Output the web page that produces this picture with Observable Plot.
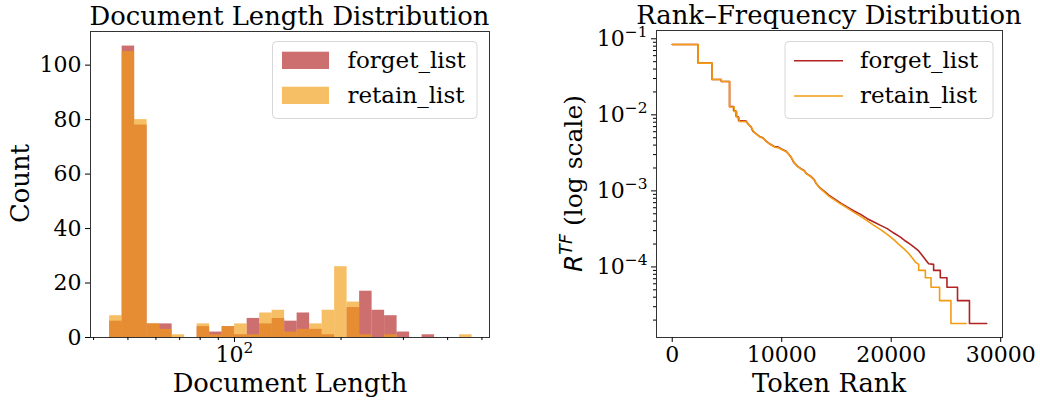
<!DOCTYPE html>
<html><head><meta charset="utf-8">
<script src="https://cdn.jsdelivr.net/npm/d3@7"></script>
<script src="https://cdn.jsdelivr.net/npm/@observablehq/plot@0.6"></script>
<style>
body{margin:0;background:#fff;}
#fig{position:relative;width:1040px;height:402px;overflow:hidden;background:#fff;}
#fig svg{position:absolute;top:0;overflow:visible;}
</style></head><body><div id="fig"></div>
<script>
// ---------- data ----------
const seriesNames = ["forget_list", "retain_list"];
const seriesColors = ["#b22222", "#f39c12"];
// log-spaced histogram bins (document length)
const binLo = 44.4, binHi = 469, binCount = 29;
const forgetCounts = [6,107,78,5,5,0,0,4,2,4, 1,7,5,7,6,9,3,1,0,11, 17,10,8,2,0,1,0,0,0];
const retainCounts = [8,105,80,5,3,1,0,5,1,4, 5,1,9,10,2,3,5,10,26,13, 1,0,1,0,0,0,0,0,1];
const histYTicks = [0,20,40,60,80,100];
const histXMajor = [100];
const histXMinor = [40,50,60,70,80,90,200,300,400,500];
// rank-frequency curves: [token rank, relative term frequency]
const forgetCurve = [
 [0,0.0842],[2364,0.0842],[2364,0.0478],[3636,0.0478],[3636,0.0292],[4482,0.0292],[4482,0.02748],[5236,0.02748],[5236,0.0129],[5600,0.0129],
 [5600,0.01143],[5845,0.01118],[5845,0.00953],[6055,0.00933],[6055,0.00844],[6755,0.00827],[6909,0.00764],[7209,0.00689],[7364,0.00611],[7664,0.00564],
 [7964,0.0052],[8273,0.005],[8573,0.00451],[8873,0.00417],[9327,0.00384],[9691,0.00376],[9936,0.00358],[10391,0.00333],[10600,0.00308],[10845,0.00278],
 [11091,0.00239],[11454,0.0021],[11755,0.00196],[12055,0.00186],[12209,0.00171],[12664,0.00155],[12964,0.001404],[13118,0.001266],[13418,0.001122],[13873,0.000994],
 [14327,0.000873],[14782,0.00079],[15391,0.000691],[16000,0.000612],[16600,0.000543],[17209,0.000491],[17818,0.000431],[18418,0.000389],[19027,0.000352],[19636,0.000319],
 [20236,0.000279],[20845,0.000247],[21300,0.000219],[21755,0.000198],[22055,0.000183],[22509,0.000162],[22818,0.000142],[23118,0.000125],[23418,0.00011],[23873,0.000108],
 [23873,0.00009],[24482,0.00009],[24482,0.000072],[25091,0.000072],[25091,0.000054],[26055,0.000054],[26055,0.000036],[27145,0.000036],[27145,0.000018],[28727,0.000018]
];
const retainCurve = [
 [0,0.0842],[2364,0.0842],[2364,0.0478],[3636,0.0478],[3636,0.0292],[4482,0.0292],[4482,0.0275],[5236,0.0275],[5236,0.0127],[5660,0.0127],
 [5660,0.0111],[5905,0.0109],[5905,0.0093],[6115,0.0091],[6115,0.0082],[6815,0.0081],[6969,0.0075],[7269,0.0067],[7424,0.006],[7724,0.0055],
 [8024,0.0051],[8333,0.0049],[8633,0.0044],[8933,0.0041],[9387,0.00375],[9751,0.00367],[9996,0.0035],[10451,0.00325],[10660,0.003],[10905,0.00271],
 [11151,0.00233],[11514,0.00205],[11815,0.00191],[12115,0.00181],[12269,0.00167],[12724,0.00151],[13024,0.00137],[13178,0.00123],[13478,0.00109],[13873,0.00097],
 [14327,0.000847],[14782,0.000766],[15391,0.000671],[16000,0.000594],[16600,0.000522],[17209,0.000462],[17818,0.000403],[18418,0.000352],[19027,0.000309],[19636,0.000268],
 [20236,0.000228],[20691,0.000198],[21145,0.000174],[21600,0.00015],[21909,0.000132],[22209,0.000116],[22509,0.000108],[22509,0.00009],[23118,0.00009],[23118,0.000072],
 [23636,0.000072],[23636,0.000054],[24418,0.000054],[24418,0.000036],[25455,0.000036],[25455,0.000018],[26845,0.000018]
];
const rankXTicks = [0,10000,20000,30000];
const rankYMajor = [1e-1,1e-2,1e-3,1e-4];
const rankYDomain = [Math.pow(10, -4.928), Math.pow(10, -0.891)];
const rankYMinor = [];
for (const e of [-5,-4,-3,-2,-1]) for (const m of [2,3,4,5,6,7,8,9]) {
  const v = m * Math.pow(10, e);
  if (v >= rankYDomain[0] && v <= rankYDomain[1]) rankYMinor.push(v);
}

const titles = ["Document Length Distribution", "Rank\u2013Frequency Distribution"];
const xLabels = ["Document Length", "Token Rank"];
const yLabelLeft = "Count";

// ---------- helpers ----------
const FONT = "DejaVu Serif";
const TICK_FS = 22;
const TITLE_FS = 25.8;
const LABEL_FS = 25.8;
const sup = d => "10^" + String(Math.round(Math.log10(d))).replace("-", "\u2212");
function fixSup(svg) {
  svg.querySelectorAll("text").forEach(t => {
    const s = t.textContent;
    if (s.includes("^")) {
      const [b, e] = s.split("^");
      t.textContent = "";
      const t1 = document.createElementNS("http://www.w3.org/2000/svg", "tspan");
      t1.textContent = b;
      const t2 = document.createElementNS("http://www.w3.org/2000/svg", "tspan");
      t2.textContent = e;
      t2.setAttribute("font-size", "15.4px");
      t2.setAttribute("dy", "-8.7");
      t.appendChild(t1); t.appendChild(t2);
    }
  });
}
function addText(svg, x, y, txt, fs, opts = {}) {
  const t = d3.select(svg).append("text")
    .attr("x", x).attr("y", y)
    .attr("font-family", FONT).attr("font-size", fs)
    .attr("fill", "black")
    .attr("text-anchor", opts.anchor || "middle")
    .text(txt);
  if (opts.rotate) t.attr("transform", `rotate(${opts.rotate},${x},${y})`);
  return t;
}
function legendBox(svg, x, y, w, h) {
  d3.select(svg).append("rect").attr("x", x).attr("y", y).attr("width", w).attr("height", h)
    .attr("rx", 4).attr("fill", "white").attr("fill-opacity", 0.8)
    .attr("stroke", "#d6d6d6").attr("stroke-width", 1);
}

// ---------- left: histogram ----------
const edges = d3.range(binCount + 1).map(k => binLo * Math.pow(binHi / binLo, k / binCount));
const bins = forgetCounts.map((c, i) => ({x1: edges[i], x2: edges[i + 1], forget: c, retain: retainCounts[i]}));

const W = 520, H = 402;
const left = Plot.plot({
  width: W, height: H,
  marginLeft: 90, marginRight: 31, marginTop: 31, marginBottom: 65,
  style: {fontFamily: FONT, fontSize: TICK_FS + "px", color: "black", background: "transparent", overflow: "visible"},
  x: {type: "log", domain: [39.2, 525.2]},
  y: {domain: [0, 112.35]},
  marks: [
    Plot.rectY(bins, {x1: "x1", x2: "x2", y: "forget", fill: seriesColors[0], fillOpacity: 0.65}),
    Plot.rectY(bins, {x1: "x1", x2: "x2", y: "retain", fill: seriesColors[1], fillOpacity: 0.65}),
    Plot.frame({stroke: "#333", strokeWidth: 1}),
    Plot.axisY({ticks: histYTicks, tickSize: 5, tickPadding: 4, label: null, tickFormat: d => String(d)}),
    Plot.axisX({ticks: histXMajor, tickSize: 5, tickPadding: 4, label: null, tickFormat: sup}),
    Plot.axisX({ticks: histXMinor, tickSize: 3, label: null, tickFormat: () => ""})
  ]
});
left.style.left = "0px";
fixSup(left);
addText(left, 289.5, 24.5, titles[0], TITLE_FS);
addText(left, 290, 392, xLabels[0], LABEL_FS);
addText(left, 28.5, 183.5, yLabelLeft, LABEL_FS, {rotate: -90});
legendBox(left, 272.5, 41.5, 204.5, 77);
seriesNames.forEach((n, i) => {
  d3.select(left).append("rect").attr("x", 282).attr("y", 51.7 + i * 35).attr("width", 47).attr("height", 17.3)
    .attr("fill", seriesColors[i]).attr("fill-opacity", 0.65);
  addText(left, 347.5, 67.5 + i * 35, n, 23, {anchor: "start"});
});

// ---------- right: rank-frequency ----------
const right = Plot.plot({
  width: W, height: H,
  marginLeft: 136, marginRight: 38, marginTop: 30, marginBottom: 65,
  style: {fontFamily: FONT, fontSize: TICK_FS + "px", color: "black", background: "transparent", overflow: "visible"},
  x: {domain: [-1436, 30163]},
  y: {type: "log", domain: rankYDomain},
  marks: [
    Plot.line(forgetCurve, {x: d => d[0], y: d => d[1], stroke: seriesColors[0], strokeWidth: 1.6}),
    Plot.line(retainCurve, {x: d => d[0], y: d => d[1], stroke: seriesColors[1], strokeWidth: 1.6}),
    Plot.frame({stroke: "#333", strokeWidth: 1}),
    Plot.axisX({ticks: rankXTicks, tickSize: 5, tickPadding: 4, label: null, tickFormat: d => String(d)}),
    Plot.axisY({ticks: rankYMajor, tickSize: 5, tickPadding: 4, label: null, tickFormat: sup}),
    Plot.axisY({ticks: rankYMinor, tickSize: 3, label: null, tickFormat: () => ""})
  ]
});
right.style.left = "520px";
fixSup(right);
addText(right, 309, 24, titles[1], TITLE_FS);
addText(right, 309, 392, xLabels[1], LABEL_FS);
// y label with math R^{TF}
{
  const x = 62, y = 183.5;
  const t = d3.select(right).append("text")
    .attr("x", x).attr("y", y).attr("text-anchor", "middle")
    .attr("font-family", FONT).attr("font-size", 25).attr("fill", "black")
    .attr("transform", `rotate(-90,${x},${y})`);
  t.append("tspan").attr("font-family", "DejaVu Sans").attr("font-style", "italic").text("R");
  t.append("tspan").attr("font-family", "DejaVu Sans").attr("font-style", "italic")
    .attr("font-size", 17.5).attr("dy", -10.5).text("TF");
  t.append("tspan").attr("dy", 10.5).text("\u00a0(log scale)");
}
legendBox(right, 265, 41.5, 208, 77);
seriesNames.forEach((n, i) => {
  d3.select(right).append("line").attr("x1", 274).attr("x2", 323)
    .attr("y1", 60.7 + i * 35.3).attr("y2", 60.7 + i * 35.3)
    .attr("stroke", seriesColors[i]).attr("stroke-width", 1.6);
  addText(right, 340, 67.5 + i * 35, n, 23, {anchor: "start"});
});

document.getElementById("fig").append(left, right);
</script>
</body></html>
